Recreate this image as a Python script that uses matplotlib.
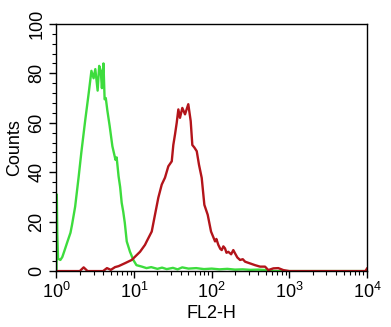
import matplotlib
matplotlib.use("Agg")
import matplotlib.pyplot as plt
import numpy as np
from matplotlib.ticker import MultipleLocator, LogLocator

plt.rcParams['font.family'] = ['Liberation Sans', 'DejaVu Sans']
plt.rcParams['mathtext.fontset'] = 'custom'
plt.rcParams['mathtext.rm'] = 'Liberation Sans'
plt.rcParams['mathtext.default'] = 'regular'

# green histogram (control), x as log10(FL2-H)
green_log = [0.000, 0.004, 0.010, 0.020, 0.050, 0.075, 0.10, 0.14, 0.18, 0.20, 0.24,
             0.285, 0.32, 0.37, 0.415, 0.45, 0.478, 0.50, 0.53, 0.55, 0.57, 0.585,
             0.605, 0.62, 0.635, 0.655, 0.685, 0.72, 0.76, 0.775, 0.80, 0.82, 0.84,
             0.86, 0.88, 0.905, 0.947, 0.99, 1.03, 1.10, 1.16, 1.22, 1.30, 1.36,
             1.42, 1.50, 1.56, 1.62, 1.70, 1.80, 1.90, 2.00, 2.10, 2.20, 2.30,
             2.40, 2.50, 2.60, 2.70, 2.75, 2.80, 3.00, 3.50, 4.00]
green_counts = [0, 31, 15, 5, 4.5, 5.7, 8, 11.8, 15.5, 18.7, 26,
                38, 48, 61, 72, 81, 78, 81.7, 73, 83, 81, 74,
                84, 69.5, 70, 65, 58.7, 50.5, 45, 46, 38.3, 34, 27.6,
                24, 19.5, 12, 7.8, 4.5, 2.4, 1.8, 1.2, 1.6, 0.9, 1.4,
                0.8, 1.3, 0.7, 1.5, 1.0, 1.2, 0.8, 1.0, 0.7, 0.9, 0.6,
                0.7, 0.5, 0.6, 0.4, 0.2, 0, 0, 0, 0]

# red histogram (stained), x as log10(FL2-H)
red_log = [0.000, 0.30, 0.35, 0.40, 0.60, 0.65, 0.70, 0.754, 0.80, 0.883, 0.969,
           1.034, 1.076, 1.140, 1.162, 1.227, 1.269, 1.312, 1.356, 1.398, 1.441,
           1.485, 1.505, 1.527, 1.549, 1.570, 1.591, 1.621, 1.656, 1.698, 1.729,
           1.750, 1.776, 1.807, 1.836, 1.871, 1.905, 1.948, 1.991, 2.043, 2.060,
           2.085, 2.110, 2.129, 2.150, 2.171, 2.190, 2.214, 2.250, 2.278, 2.300,
           2.330, 2.365, 2.400, 2.430, 2.494, 2.558, 2.623, 2.687, 2.729, 2.794,
           2.858, 2.923, 3.00, 3.50, 3.98, 4.00]
red_counts = [0, 0, 1.5, 0, 0, 1.2, 0.5, 1.6, 2.0, 3.2, 4.5,
              6.5, 7.8, 10.6, 12, 16, 22.8, 29.7, 35, 37.8, 42.4,
              44.4, 51, 55.3, 60, 65.4, 62, 66, 63.4, 67.5, 60.7,
              51, 50, 48.5, 43, 37.7, 26.8, 22.8, 16, 12, 13,
              10.6, 9.0, 8.5, 10.0, 9.2, 7.4, 7.8, 6.8, 8.5, 7.2,
              5.5, 4.5, 4.8, 3.8, 3.1, 2.4, 1.8, 1.8, 0.4, 1.1,
              1.2, 0.4, 0, 0, 0, 1.0]

fig = plt.figure(figsize=(3.91, 3.27), dpi=100)
ax = fig.add_axes([0.1445, 0.171, 0.794, 0.756])

ax.plot(10 ** np.array(green_log), green_counts, color='#3ddc3d', lw=1.7)
ax.plot(10 ** np.array(red_log), red_counts, color='#b3141a', lw=1.7)

ax.set_xscale('log')
ax.set_xlim(1, 1e4)
ax.set_ylim(0, 100)
ax.yaxis.set_major_locator(MultipleLocator(20))
ax.yaxis.set_minor_locator(MultipleLocator(4))
ax.xaxis.set_minor_locator(LogLocator(base=10, subs=np.arange(2, 10), numticks=20))

ax.tick_params(which='major', direction='out', length=5, width=1, labelsize=13, pad=3)
ax.tick_params(which='minor', direction='out', length=3, width=0.8)
for lab in ax.get_yticklabels():
    lab.set_rotation(90)
    lab.set_va('center')

ax.set_xlabel('FL2-H', fontsize=13, labelpad=2)
ax.set_ylabel('Counts', fontsize=13, labelpad=4)
for s in ax.spines.values():
    s.set_linewidth(1)

fig.savefig('out.png', dpi=100)
